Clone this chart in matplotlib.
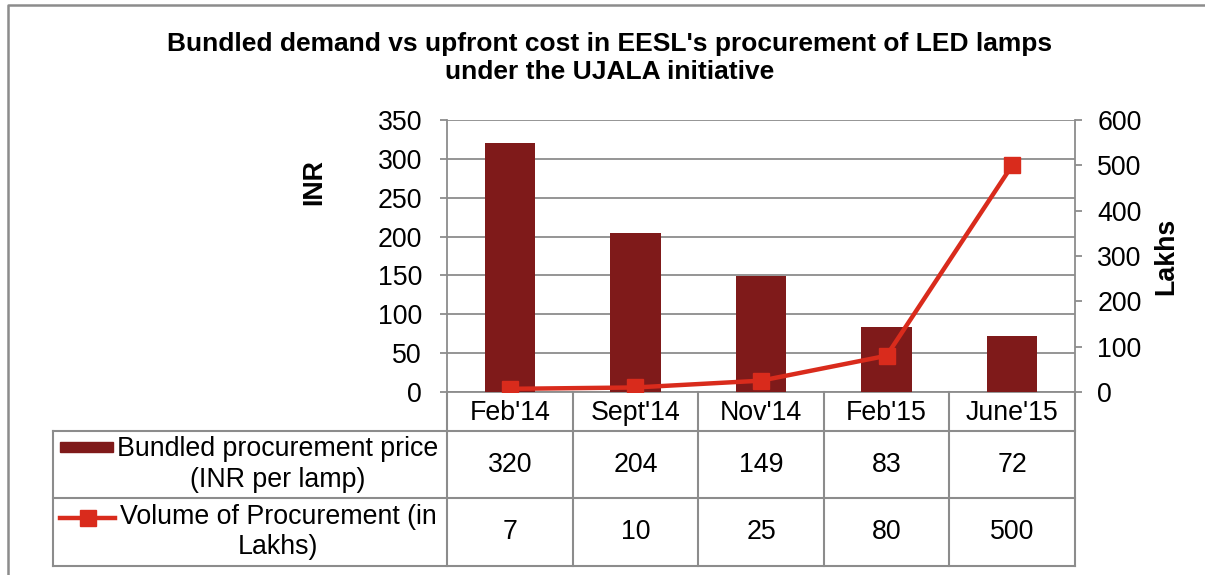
import matplotlib
matplotlib.use("Agg")
import matplotlib.pyplot as plt
from matplotlib.lines import Line2D
from matplotlib.patches import Rectangle
import matplotlib.transforms as mtransforms

categories = ["Feb'14", "Sept'14", "Nov'14", "Feb'15", "June'15"]
price = [320, 204, 149, 83, 72]
volume = [7, 10, 25, 80, 500]
price_label = "Bundled procurement price\n(INR per lamp)"
volume_label = "Volume of Procurement (in\nLakhs)"
left_ticks = [0, 50, 100, 150, 200, 250, 300, 350]
right_ticks = [0, 100, 200, 300, 400, 500, 600]

BAR = "#7F1A1A"
LINE = "#D92B1C"
GRID = "#8C8C8C"
FONT = "Liberation Sans"
plt.rcParams["font.family"] = [FONT, "DejaVu Sans"]
FS = 19.3

W, H = 1205, 575
fig = plt.figure(figsize=(W / 100, H / 100), dpi=100)

def fx(px):
    return px / W

def fy(py):
    return 1 - py / H

ax_l, ax_r, ax_t, ax_b = 447, 1075, 120, 392
ax = fig.add_axes([fx(ax_l), fy(ax_b), fx(ax_r - ax_l), fy(ax_t) - fy(ax_b)])
x = list(range(len(categories)))
ax.bar(x, price, width=0.4, color=BAR, zorder=3)
ax.set_xlim(-0.5, len(categories) - 0.5)
ax.set_ylim(0, 350)
ax.set_yticks(left_ticks)
ax.yaxis.grid(True, color=GRID, lw=1.3, zorder=0)
ax.set_xticks([])
for s in ["top", "right"]:
    ax.spines[s].set_visible(False)
ax.spines["left"].set_color(GRID)
ax.spines["left"].set_linewidth(1.3)
ax.spines["bottom"].set_color(GRID)
ax.spines["bottom"].set_linewidth(1.3)
ax.tick_params(axis="y", length=5, width=1.3, color=GRID, labelsize=FS, pad=13)
ax.set_ylabel("INR", fontsize=FS, fontweight="bold")
ax.yaxis.set_label_coords(-0.19, 0.77)

ax2 = ax.twinx()
ax2.plot(x, volume, color=LINE, lw=3.2, marker="s", markersize=12, zorder=4)
ax2.set_ylim(0, 600)
ax2.set_yticks(right_ticks)
for s in ["top", "left", "bottom"]:
    ax2.spines[s].set_visible(False)
ax2.spines["right"].set_color(GRID)
ax2.spines["right"].set_linewidth(1.3)
ax2.tick_params(axis="y", length=5, width=1.3, color=GRID, labelsize=FS, pad=11)
ax2.set_ylabel("Lakhs", fontsize=FS, fontweight="bold", rotation=90)
ax2.yaxis.set_label_coords(1.125, 0.5)

fig.suptitle("Bundled demand vs upfront cost in EESL's procurement of LED lamps\nunder the UJALA initiative",
             x=fx(610), y=fy(32), fontsize=19, fontweight="bold", va="top", linespacing=1.2)

# data table
trans = mtransforms.blended_transform_factory(ax.transData, fig.transFigure)
lkw = dict(color=GRID, lw=1.5, clip_on=False)
y_head_top, y_r1, y_r2, y_bot = 392, 431, 498, 566
tab_left = 53
for yy in [y_r1, y_r2, y_bot]:
    fig.add_artist(Line2D([fx(tab_left), fx(ax_r)], [fy(yy), fy(yy)], **lkw))
fig.add_artist(Line2D([fx(tab_left), fx(tab_left)], [fy(y_r1), fy(y_bot)], **lkw))
for b in range(len(categories) + 1):
    xb = b - 0.5
    fig.add_artist(Line2D([xb, xb], [fy(y_head_top), fy(y_bot)], transform=trans, **lkw))

for i, c in enumerate(categories):
    fig.text(i, fy((y_head_top + y_r1) / 2 + 1), c, transform=trans, ha="center", va="center", fontsize=FS)
    fig.text(i, fy((y_r1 + y_r2) / 2), str(price[i]), transform=trans, ha="center", va="center", fontsize=FS)
    fig.text(i, fy((y_r2 + y_bot) / 2), str(volume[i]), transform=trans, ha="center", va="center", fontsize=FS)

fig.text(fx(278), fy((y_r1 + y_r2) / 2), price_label, ha="center", va="center", fontsize=FS, linespacing=1.25)
fig.text(fx(278), fy((y_r2 + y_bot) / 2), volume_label, ha="center", va="center", fontsize=FS, linespacing=1.25)
fig.add_artist(Rectangle((fx(60), fy(452)), fx(53), fy(442) - fy(452), color=BAR, transform=fig.transFigure))
fig.add_artist(Line2D([fx(60), fx(115)], [fy(518), fy(518)], color=LINE, lw=3.2))
fig.add_artist(Line2D([fx(87.5)], [fy(518)], color=LINE, marker="s", markersize=12, lw=0))

fig.add_artist(Line2D([fx(8), fx(8), fx(W)], [0, fy(5), fy(5)], color=GRID, lw=1.8))

fig.savefig("out.png", dpi=100)
